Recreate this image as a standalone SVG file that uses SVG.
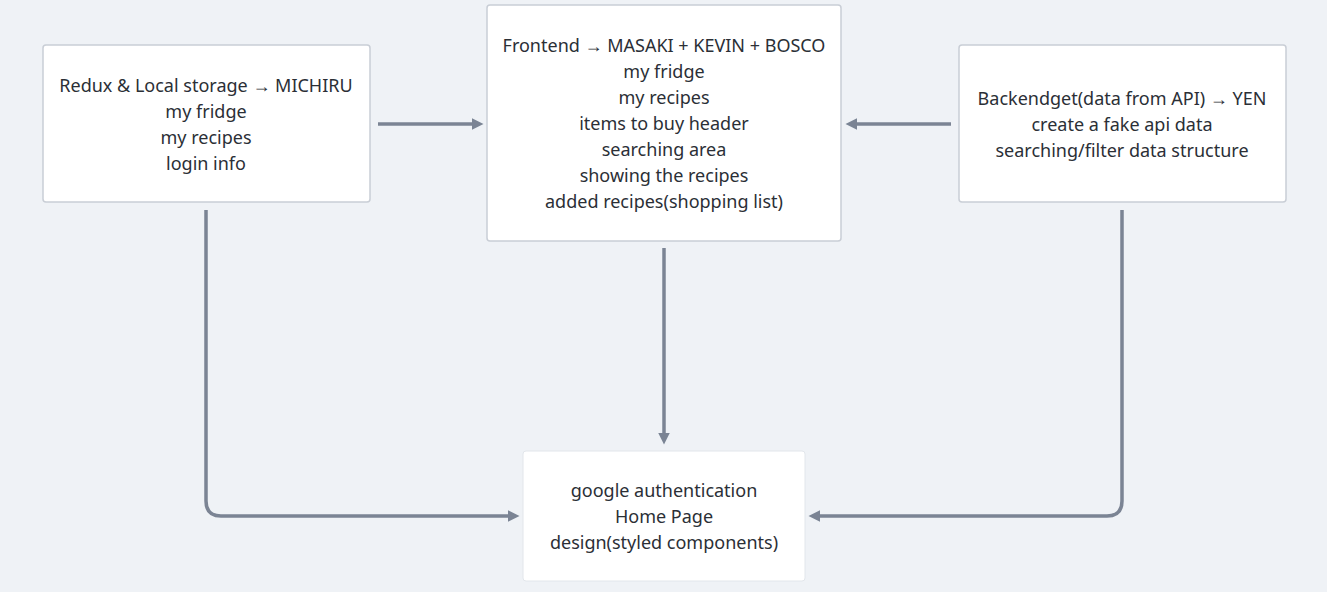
<svg xmlns="http://www.w3.org/2000/svg" width="1327" height="592" viewBox="0 0 1327 592">
<style>
.bg{fill:#eff2f6}
.box{fill:#ffffff;stroke:#c9ced6;stroke-width:1.5}
.box2{fill:#ffffff;stroke:#e2e6eb;stroke-width:1}
.t{font-family:"Noto Sans","Liberation Sans",sans-serif;font-size:18px;fill:#2b2f36;text-anchor:middle}
.c{fill:none;stroke:#7b8494;stroke-width:3.5}
</style>
<defs>
<marker id="ah" viewBox="0 0 10 10" refX="2" refY="5" markerWidth="3.4" markerHeight="3.4" orient="auto" markerUnits="strokeWidth">
<path d="M0,0 L10,5 L0,10 z" fill="#7b8494"/>
</marker>
</defs>
<rect class="bg" x="0" y="0" width="1327" height="592"/>
<g id="connectors">
<path class="c" d="M378,124 H474" marker-end="url(#ah)"/>
<path class="c" d="M951,124 H855" marker-end="url(#ah)"/>
<path class="c" d="M664,248 V435" marker-end="url(#ah)"/>
<path class="c" d="M206,210 V501 Q206,516 221,516 H510" marker-end="url(#ah)"/>
<path class="c" d="M1122,210 V501 Q1122,516 1107,516 H818" marker-end="url(#ah)"/>
</g>
<g id="redux">
<rect class="box" x="43" y="45" width="327" height="157" rx="3"/>
<text class="t" x="206" y="92">Redux &amp; Local storage → MICHIRU</text>
<text class="t" x="206" y="118">my fridge</text>
<text class="t" x="206" y="144">my recipes</text>
<text class="t" x="206" y="170">login info</text>
</g>
<g id="frontend">
<rect class="box" x="487" y="5" width="354" height="236" rx="3"/>
<text class="t" x="664" y="52">Frontend → MASAKI + KEVIN + BOSCO</text>
<text class="t" x="664" y="78">my fridge</text>
<text class="t" x="664" y="104">my recipes</text>
<text class="t" x="664" y="130">items to buy header</text>
<text class="t" x="664" y="156">searching area</text>
<text class="t" x="664" y="182">showing the recipes</text>
<text class="t" x="664" y="208">added recipes(shopping list)</text>
</g>
<g id="backend">
<rect class="box" x="959" y="45" width="327" height="157" rx="3"/>
<text class="t" x="1122" y="105">Backendget(data from API) → YEN</text>
<text class="t" x="1122" y="131">create a fake api data</text>
<text class="t" x="1122" y="157">searching/filter data structure</text>
</g>
<g id="homepage">
<rect class="box2" x="523" y="451" width="282" height="130" rx="3"/>
<text class="t" x="664" y="497">google authentication</text>
<text class="t" x="664" y="523">Home Page</text>
<text class="t" x="664" y="549">design(styled components)</text>
</g>
</svg>
